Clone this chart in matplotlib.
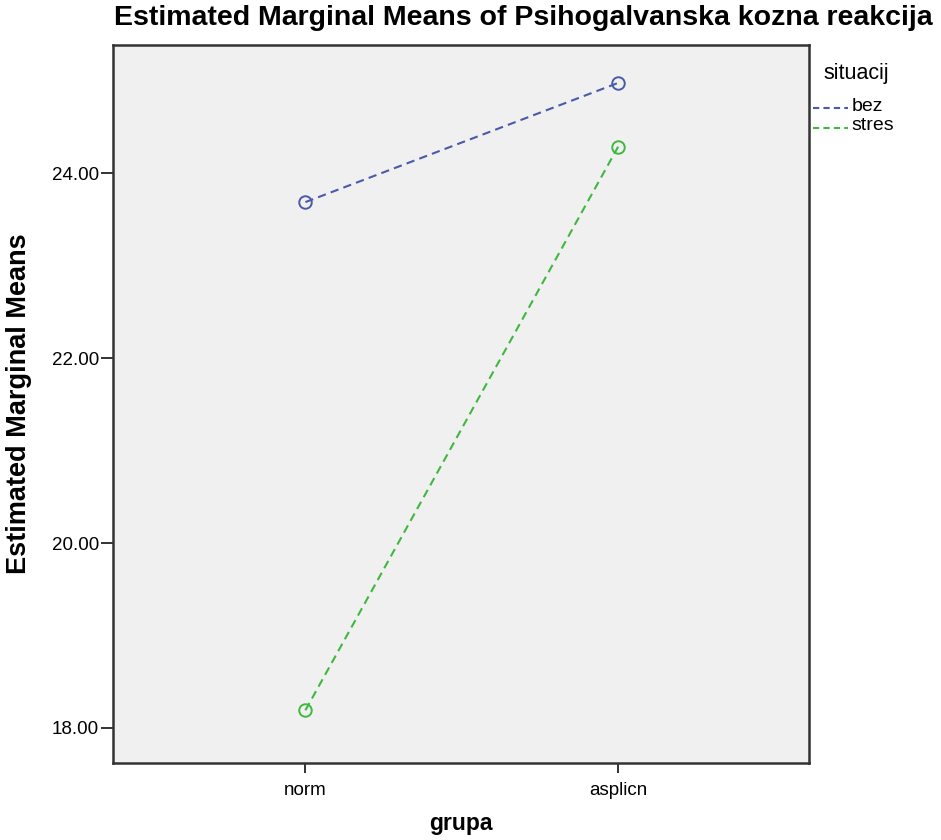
import matplotlib
matplotlib.use("Agg")
import matplotlib.pyplot as plt

plt.rcParams['font.family'] = ['Liberation Sans', 'DejaVu Sans']

groups = ['norm', 'asplicn']
bez = [23.69, 24.98]
stres = [18.19, 24.29]
yticks = [18.0, 20.0, 22.0, 24.0]

blue = '#4a5aa8'
green = '#40b840'

fig = plt.figure(figsize=(9.41, 8.4), dpi=100)
ax = fig.add_axes([0.1201, 0.0917, 0.7396, 0.8547])
ax.set_facecolor('#f0f0f0')

x = list(range(len(groups)))
ax.plot(x, bez, ls='--', color=blue, lw=1.5, marker='o', ms=9,
        mfc='none', mec=blue, mew=1.4, dashes=(4, 2.5))
ax.plot(x, stres, ls='--', color=green, lw=1.5, marker='o', ms=9,
        mfc='none', mec=green, mew=1.4, dashes=(4, 2.5))

ax.set_xlim(-0.615, 1.61)
ax.set_ylim(17.62, 25.39)
ax.set_xticks(x)
ax.set_xticklabels(groups, fontsize=13.5)
ax.set_yticks(yticks)
ax.set_yticklabels([f'{v:.2f}' for v in yticks], fontsize=13.5)
ax.tick_params(axis='y', length=9, width=1.4, color='#333333', pad=1)
ax.tick_params(axis='x', length=7, width=1.4, color='#333333', pad=7)
for s in ax.spines.values():
    s.set_linewidth(1.8)
    s.set_color('#333333')

ax.set_xlabel('grupa', fontsize=16.5, fontweight='bold')
ax.xaxis.set_label_coords(0.5, -0.068)
ax.set_ylabel('Estimated Marginal Means', fontsize=19.5, fontweight='bold')
ax.yaxis.set_label_coords(-0.116, 0.5)
fig.text(0.556, 0.978, 'Estimated Marginal Means of Psihogalvanska kozna reakcija',
         ha='center', va='center', fontsize=20.5, fontweight='bold')

# legend
fig.text(0.875, 0.913, 'situacij', fontsize=15.5, va='center')
fig.lines.append(plt.Line2D([0.864, 0.901], [0.871, 0.871], transform=fig.transFigure,
                            color=blue, ls='--', lw=1.5, dashes=(3, 2)))
fig.lines.append(plt.Line2D([0.864, 0.901], [0.848, 0.848], transform=fig.transFigure,
                            color=green, ls='--', lw=1.5, dashes=(3, 2)))
fig.text(0.905, 0.873, 'bez', fontsize=14, va='center')
fig.text(0.905, 0.850, 'stres', fontsize=14, va='center')

fig.savefig('out.png', dpi=100)
